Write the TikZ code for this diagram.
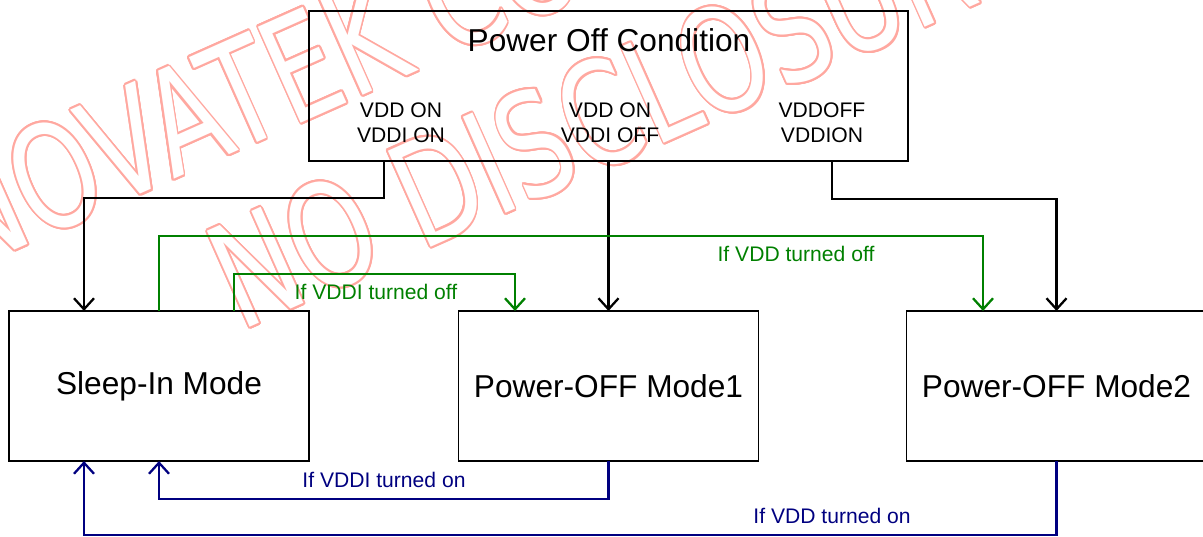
\documentclass[tikz,border=0pt]{standalone}
\usepackage{fontspec}
\setmainfont{Liberation Sans}
\newfontfamily\wmfont{DejaVu Sans}
\usepackage[copies]{contour}
\contourlength{0.6pt}
\contournumber{20}
\usetikzlibrary{arrows.meta}
\definecolor{wmpink}{RGB}{255,168,160}
\definecolor{cgreen}{RGB}{0,128,0}
\definecolor{cblue}{RGB}{0,0,128}
\begin{document}
\begin{tikzpicture}[x=0.01cm,y=-0.01cm,
 box/.style={draw=black,line width=0.5pt,inner sep=0pt,outer sep=0pt,minimum height=1.5cm,minimum width=3cm,font=\fontsize{9}{11}\selectfont},
 conn/.style={line width=0.65pt,-{Straight Barb[length=1.1mm,width=2mm]}},
 lab/.style={font=\fontsize{6}{7}\selectfont,inner sep=0pt,anchor=base},
 cond/.style={font=\fontsize{6}{7.1}\selectfont,align=center,inner sep=0pt},
 wm/.style={anchor=base west,rotate=24,inner sep=0pt,font=\wmfont\fontsize{41}{41}\selectfont}]
\useasboundingbox (0,0) rectangle (1203,536);
% watermark
\node[wm] (wm1) at (-36,273) {\scalebox{0.74}[1]{\contour{wmpink}{\textcolor{white}{NOVATEK CONFIDENTIAL}}}};
\node[wm] (wm2) at (240,332) {\scalebox{0.74}[1]{\contour{wmpink}{\textcolor{white}{NO DISCLOSURE}}}};
% boxes
\node[box,minimum width=5.99cm] (top) at (608.5,86) {};
\node[font=\fontsize{9}{11}\selectfont,anchor=base,inner sep=0pt] (title) at (609,51) {Power Off Condition};
\node[cond] (c1) at (401,123) {VDD ON\\VDDI ON};
\node[cond] (c2) at (610,123) {VDD ON\\VDDI OFF};
\node[cond] (c3) at (822,123) {VDDOFF\\VDDION};
\node[box] (sleep) at (159,386) {Sleep-In Mode};
\node[box] (mode1) at (608.5,386) {Power-OFF Mode1};
\node[box] (mode2) at (1056.5,386) {Power-OFF Mode2};
% helper coordinates
\coordinate (k1) at (384,198);
\coordinate (k1b) at (84,198);
\coordinate (k3) at (832,199);
\coordinate (k3b) at (1056.5,199);
\coordinate (g1) at (159,236);
\coordinate (g1b) at (983,236);
\coordinate (g2) at (234,274);
\coordinate (g2b) at (515,274);
\coordinate (u1) at (159,499);
\coordinate (u2) at (84,535);
% black connectors
\draw[conn] (top.south -| k1) -- (k1) -- (k1b) -- (sleep.north -| k1b);
\draw[conn] (top.south -| mode1.north) -- (mode1.north);
\draw[conn] (top.south -| k3) -- (k3) -- (k3b) -- (mode2.north -| k3b);
% green connectors
\draw[conn,cgreen] (sleep.north) -- (g1) -- (g1b) -- (mode2.north -| g1b);
\draw[conn,cgreen] (sleep.north -| g2) -- (g2) -- (g2b) -- (mode1.north -| g2b);
\node[lab,text=cgreen] (l1) at (796,261) {If VDD turned off};
\node[lab,text=cgreen] (l2) at (376,299) {If VDDI turned off};
% blue connectors
\draw[conn,cblue] (mode1.south) |- (u1) -- (sleep.south);
\draw[conn,cblue] (mode2.south) |- (u2) -- (sleep.south -| u2);
\node[lab,text=cblue] (l3) at (384,487) {If VDDI turned on};
\node[lab,text=cblue] (l4) at (832,523) {If VDD turned on};
\end{tikzpicture}
\end{document}
